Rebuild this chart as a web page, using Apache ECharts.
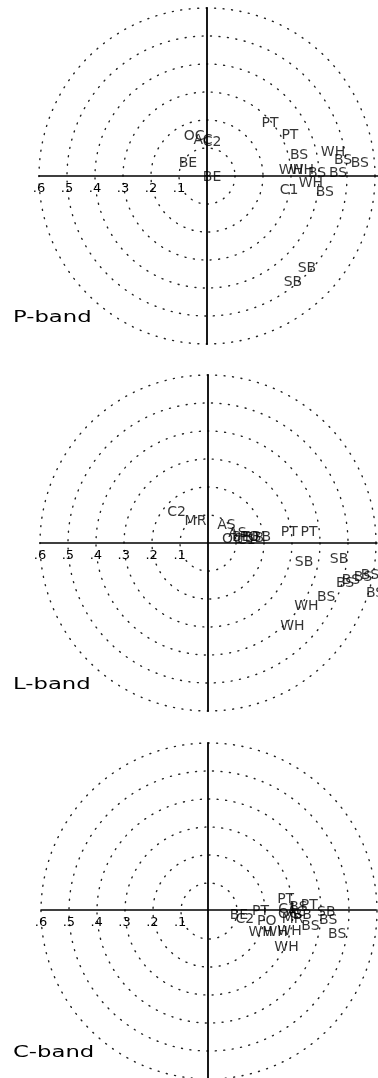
<!DOCTYPE html>
<html>
<head>
<meta charset="utf-8">
<script src="https://cdn.jsdelivr.net/npm/echarts@6/dist/echarts.min.js"></script>
<style>
html,body{margin:0;padding:0;background:#fff;}
#chart{width:378px;height:1078px;}
</style>
</head>
<body>
<div id="chart"></div>
<script>
// ---- data ----
const bandTitles = ['P-band', 'L-band', 'C-band'];
const tickLabels = ['.6', '.5', '.4', '.3', '.2', '.1'];
const ringValues = [0.1, 0.2, 0.3, 0.4, 0.5, 0.6];

const pNames = ['PT','PT','OC','AC','C2','BE','BE','BS','WH','BS','BS','WH','WH','BS','BS','WH','C1','BS','SB','SB'];
const pX = [0.225,0.296,-0.046,-0.014,0.018,-0.068,0.018,0.329,0.450,0.486,0.546,0.300,0.339,0.393,0.468,0.371,0.293,0.421,0.357,0.307];
const pY = [0.189,0.146,0.143,0.129,0.121,0.046,-0.004,0.075,0.086,0.057,0.046,0.021,0.021,0.011,0.011,-0.025,-0.050,-0.057,-0.329,-0.379];

const lNames = ['C2','MR','AS','AS','OC','BE','C1','PO','BB','BB','PT','PT','SB','SB','BS','BS','BS','BS','BS','BS','WH','WH'];
const lX = [-0.111,-0.043,0.068,0.107,0.089,0.121,0.139,0.150,0.168,0.193,0.293,0.364,0.346,0.471,0.493,0.514,0.557,0.582,0.600,0.425,0.354,0.304];
const lY = [0.111,0.079,0.064,0.036,0.014,0.021,0.011,0.021,0.018,0.021,0.039,0.039,-0.068,-0.057,-0.143,-0.132,-0.121,-0.114,-0.179,-0.193,-0.225,-0.296];

const cNames = ['BE','C2','PT','PO','PT','C1','BS','PT','OC','AC','BB','MR','SB','BS','BS','BS','WH','WH','WH','WH'];
const cX = [0.111,0.132,0.189,0.211,0.279,0.286,0.325,0.364,0.289,0.318,0.339,0.304,0.425,0.432,0.368,0.464,0.189,0.243,0.293,0.282];
const cY = [-0.018,-0.032,-0.004,-0.039,0.039,0.004,0.011,0.018,-0.014,-0.007,-0.018,-0.032,-0.007,-0.036,-0.057,-0.086,-0.079,-0.079,-0.075,-0.132];

const bands = [[pNames,pX,pY],[lNames,lX,lY],[cNames,cX,cY]];

// ---- layout ----
const W = 378;
const centersX = [207, 208, 209];
const centersY = [176, 543, 911];
const R = 168;               // pixel radius of 0.6
const unit = R / 0.6;        // px per unit
const FONT = 'DejaVu Sans';

const chart = echarts.init(document.getElementById('chart'), null, {renderer:'canvas'});

const polar = [], angleAxis = [], radiusAxis = [], grid = [], xAxis = [], yAxis = [], series = [], graphic = [];

bands.forEach((b, i) => {
  const cx = centersX[i], cy = centersY[i];
  polar.push({center:[cx, cy], radius: R});
  angleAxis.push({polarIndex:i, min:0, max:360, show:true,
    axisLine:{show:false}, axisTick:{show:false}, axisLabel:{show:false}, splitLine:{show:false}});
  radiusAxis.push({polarIndex:i, min:0, max:ringValues[ringValues.length-1], interval:ringValues[0],
    axisLine:{show:false}, axisTick:{show:false}, axisLabel:{show:false},
    splitLine:{show:true, lineStyle:{color:'#222', width:1.4, type:[1,7.5], cap:'round'}}});
  grid.push({left: cx - R, top: cy - R, height: 2*R, right: 0});
  xAxis.push({gridIndex:i, type:'value', position:'bottom', offset:-R, min:-0.6, max:(W - cx)/unit, interval:0.1,
    axisLine:{show:true, onZero:false, lineStyle:{color:'#000', width:1.6}},
    axisTick:{show:false}, splitLine:{show:false},
    axisLabel:{show:true, margin:6, fontSize:13, fontFamily:FONT, color:'#000',
      showMaxLabel:false,
      formatter: v => { const k = Math.round(-v*10); return (k >= 1 && k <= 6) ? tickLabels[6-k] : ''; }}});
  yAxis.push({gridIndex:i, type:'value', min:-0.6, max:0.6,
    axisLine:{show:true, onZero:true, lineStyle:{color:'#000', width:1.8}},
    axisTick:{show:false}, splitLine:{show:false}, axisLabel:{show:false}});
  const [names, xs, ys] = b;
  series.push({type:'scatter', xAxisIndex:i, yAxisIndex:i, symbolSize:0, clip:false, silent:true,
    data: names.map((n, k) => ({name:n, value:[xs[k], ys[k]]})),
    label:{show:true, position:'inside', formatter:'{b}', color:'#000', fontSize:14, fontFamily:FONT}});
  graphic.push({type:'text', x:13, y:cy + 142, scaleX:1.42,
    style:{text:bandTitles[i], fontSize:16, fontFamily:FONT, fill:'#000', verticalAlign:'middle', align:'left'}});
});

chart.setOption({
  animation:false,
  backgroundColor:'#fff',
  polar, angleAxis, radiusAxis, grid, xAxis, yAxis, series, graphic
});
</script>
</body>
</html>
